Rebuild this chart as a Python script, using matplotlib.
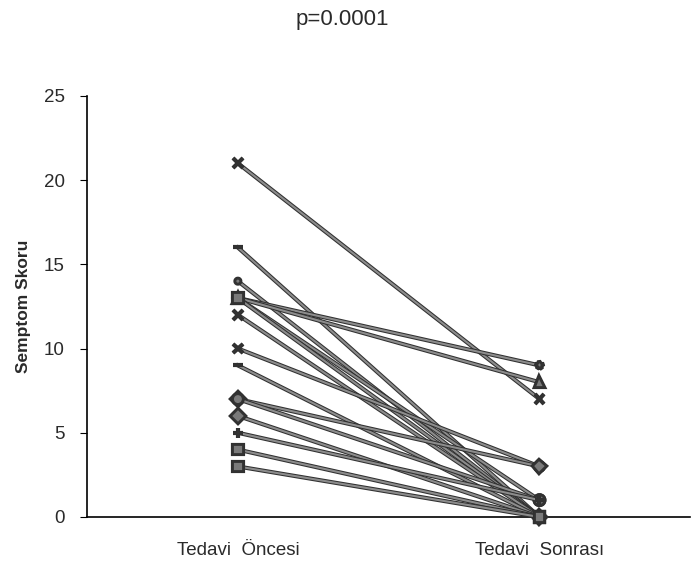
import matplotlib
matplotlib.use("Agg")
import matplotlib.pyplot as plt
import matplotlib.patheffects as pe

plt.rcParams['font.family'] = ['Liberation Sans', 'DejaVu Sans']

categories = ["Tedavi  Öncesi", "Tedavi  Sonrası"]
before = [21, 16, 14, 13, 13, 13, 13, 12, 10, 9, 7, 7, 6, 5, 4, 3]
after = [7, 0, 0, 9, 8, 1, 0, 0, 3, 0, 3, 1, 0, 1, 0, 0]
markers = ['x', '_', '.', '*', '^', 'o', 's', 'x', 'x', '_', 'D', 'o', 'D', '+', 's', 's']
title = "p=0.0001"
ylabel = "Semptom Skoru"
yticks = [0, 5, 10, 15, 20, 25]

txt = '#2a2a2a'
fig = plt.figure(figsize=(6.91, 5.66), dpi=100)
ax = fig.add_axes([0.126, 0.0866, 0.873, 0.744])

effects = [pe.Stroke(linewidth=3.0, foreground='#303030'), pe.Normal()]
for b, a, m in zip(before, after, markers):
    ax.plot([0, 1], [b, a], color='#8c8c8c', linewidth=1.5,
            marker=m, markersize=7, markeredgecolor='#333333',
            markerfacecolor='#7a7a7a', markeredgewidth=1.3,
            path_effects=effects, clip_on=False, zorder=3)

ax.set_xlim(-0.5, 1.5)
ax.set_ylim(0, 25)
ax.set_xticks([0, 1])
ax.set_xticklabels(categories, fontsize=13.5, color=txt)
ax.set_yticks(yticks)
ax.tick_params(axis='x', length=0, pad=18)
ax.tick_params(axis='y', length=5, labelsize=13.5, pad=11, labelcolor=txt)
ax.spines['top'].set_visible(False)
ax.spines['right'].set_visible(False)
ax.spines['left'].set_linewidth(1.2)
ax.spines['bottom'].set_linewidth(1.2)
ax.set_ylabel(ylabel, fontsize=12.5, fontweight='bold', labelpad=9, color=txt)

fig.text(0.495, 0.965, title, ha='center', va='center', fontsize=16, color=txt)

fig.savefig("out.png", dpi=100)
